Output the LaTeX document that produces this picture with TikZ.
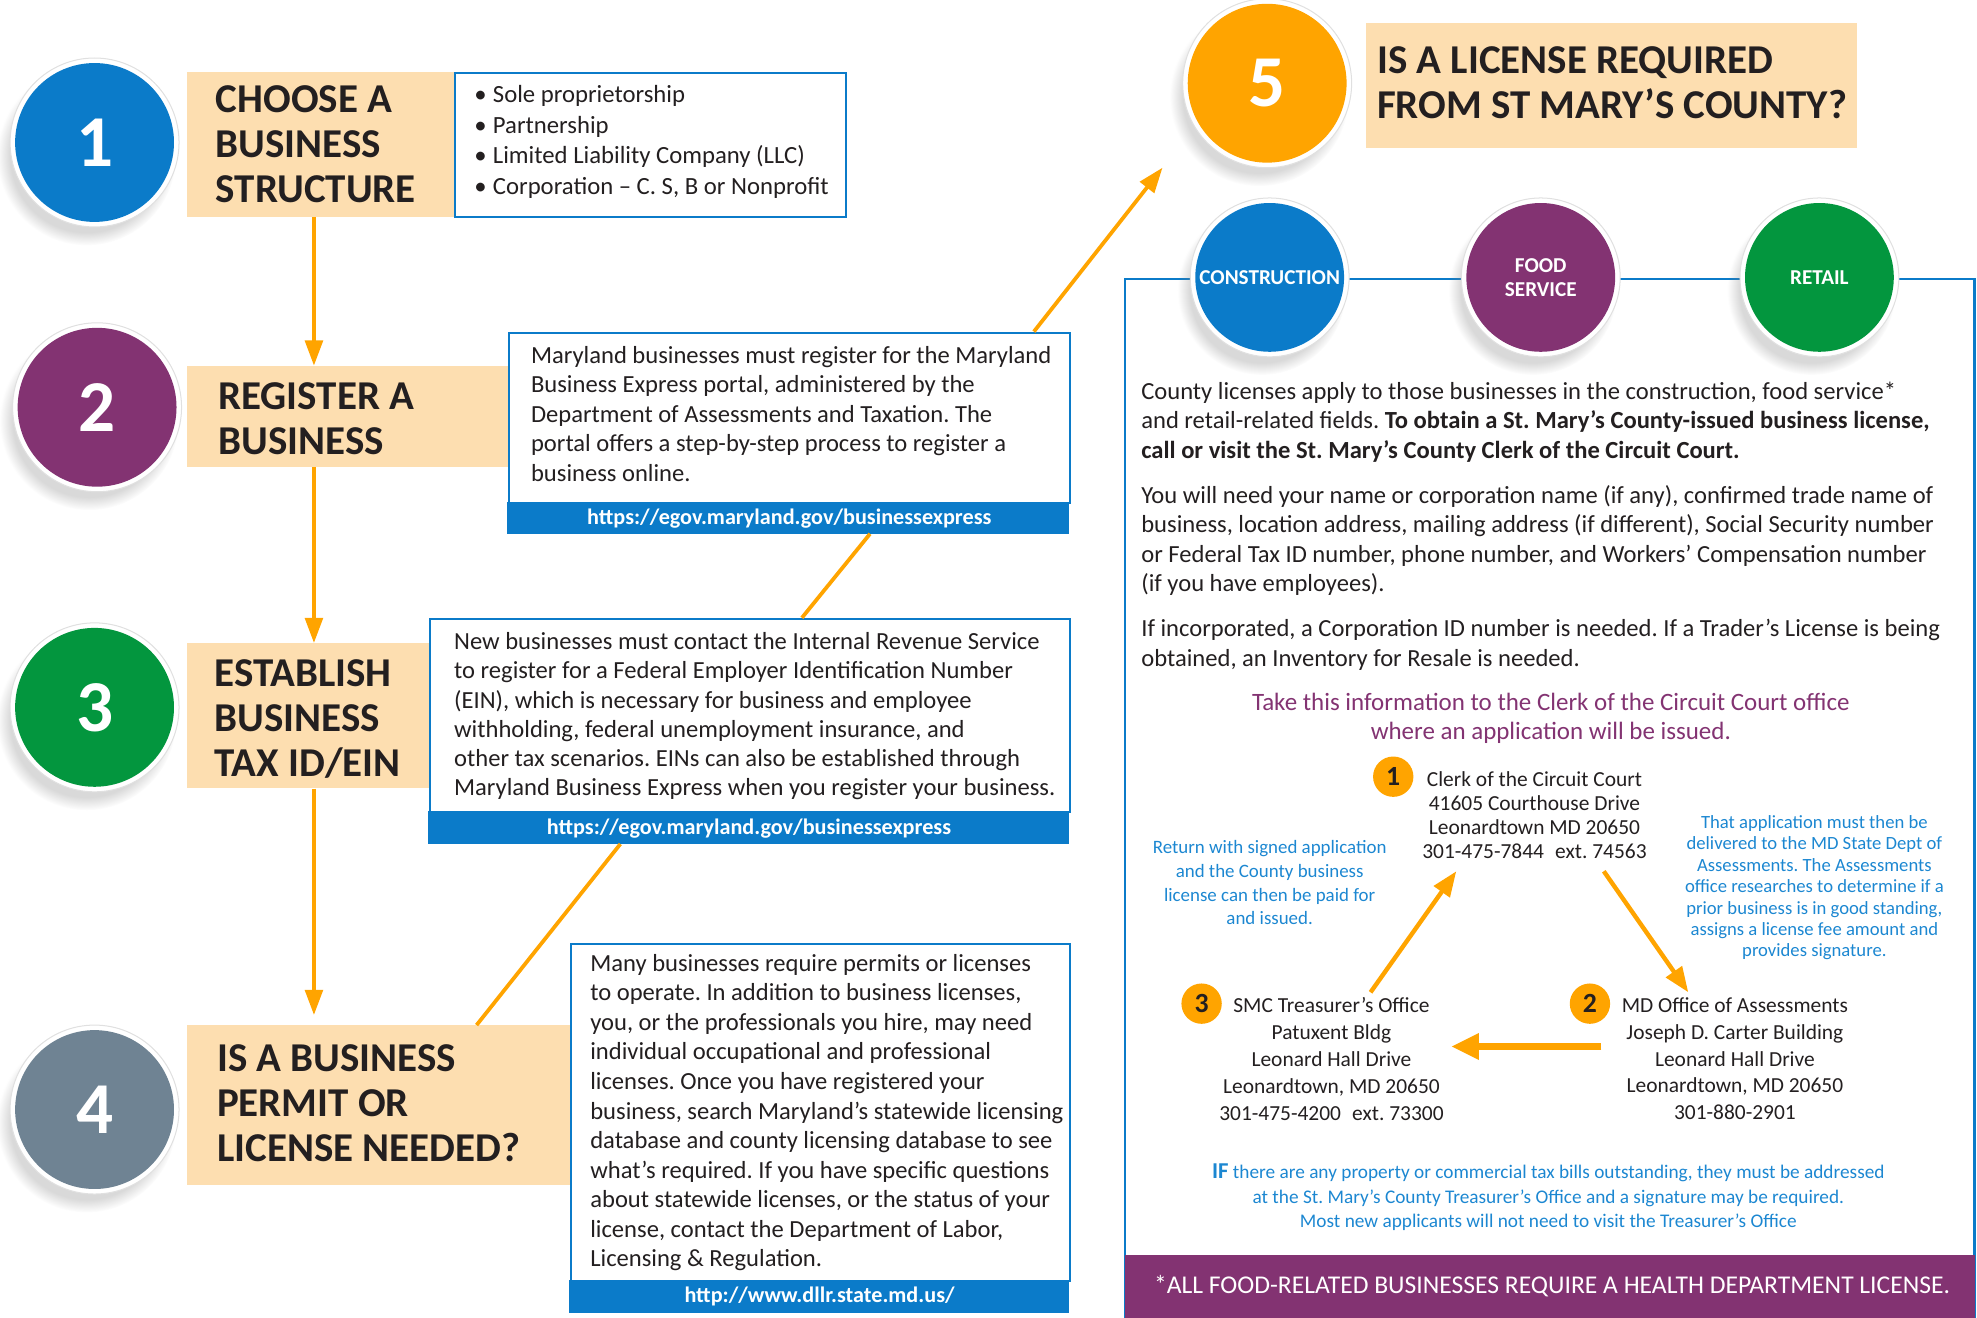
\documentclass[tikz,border=0pt]{standalone}
\usepackage{fontspec}
\setmainfont{Carlito}
\usetikzlibrary{arrows.meta,shadows}
\definecolor{cblue}{HTML}{0B7BC9}
\definecolor{cpurple}{HTML}{833372}
\definecolor{cgreen}{HTML}{03963E}
\definecolor{cgray}{HTML}{6F8393}
\definecolor{corange}{HTML}{FFA400}
\definecolor{cpeach}{HTML}{FDDEB0}
\definecolor{ctext}{HTML}{231F20}
\definecolor{cnote}{HTML}{1C87D1}
\frenchspacing
\begin{document}
\begin{tikzpicture}[x=1pt,y=-1pt,
  ringbg/.style={circle, inner sep=0, fill=white, draw=black!12, line width=0.8pt,
     circular drop shadow={shadow xshift=-6pt, shadow yshift=-10pt, opacity=0.3, shadow scale=1.06}},
  stepcirc/.style={circle, inner sep=0, minimum size=126pt, text=white,
     font=\bfseries\fontsize{58}{58}\selectfont},
  catcirc/.style={circle, inner sep=0, minimum size=118pt, text=white, align=center,
     font=\bfseries\fontsize{16.8}{19}\selectfont},
  peach/.style={fill=cpeach, draw=none},
  head/.style={anchor=north west, inner sep=0, align=left, text=ctext,
     font=\bfseries\fontsize{32.5}{35.7}\selectfont},
  infobox/.style={draw=cblue, line width=1.8pt, fill=white},
  urlbar/.style={fill=cblue, draw=none},
  urltext/.style={text=white, inner sep=0, font=\bfseries\fontsize{17.6}{20}\selectfont},
  body/.style={anchor=north west, inner sep=0, align=left, text=ctext,
     font=\fontsize{19.5}{23.4}\selectfont},
  flow/.style={draw=corange, line width=3pt, -{Triangle[length=20pt,width=14pt]}},
  link/.style={draw=corange, line width=3pt},
  addr/.style={anchor=north, inner sep=0, align=center, text=ctext,
     font=\fontsize{17}{21.3}\selectfont},
  note/.style={anchor=north, inner sep=0, align=center, text=cnote,
     font=\fontsize{14.8}{17}\selectfont},
  numdot/.style={circle, fill=corange, inner sep=0, minimum size=32pt, text=ctext,
     font=\bfseries\fontsize{22}{22}\selectfont},
  tri/.style={draw=corange, line width=3.5pt, -{Triangle[length=20pt,width=15pt]}}
]
\useasboundingbox (0,0) rectangle (1568,1044.6);

% ---------------- right panel frame ----------------
\draw[cblue, line width=1.8pt] (892,1060) -- (892,221) -- (1566,221) -- (1566,1060);
\node[fill=cpurple, minimum width=674pt, minimum height=52pt, inner sep=0, anchor=north west] (foodbar) at (892,995) {};
\node[text=white, inner sep=0, font=\fontsize{20.3}{22}\selectfont] (foodtxt) at (1231,1020) {*ALL FOOD-RELATED BUSINESSES REQUIRE A HEALTH DEPARTMENT LICENSE.};

% ---------------- step boxes ----------------
\node[peach, anchor=north west, minimum width=212pt, minimum height=115pt, inner sep=0] (h1) at (148,57) {};
\node[head] (h1t) at (171,68) {CHOOSE A\\BUSINESS\\STRUCTURE};
\node[infobox, anchor=north west, minimum width=310pt, minimum height=114pt, inner sep=0] (b1) at (360,57) {};
\node[body, font=\fontsize{19.6}{24.3}\selectfont] (b1t) at (376,67.5) {\textbullet\hspace{5pt}Sole proprietorship\\\textbullet\hspace{5pt}Partnership\\\textbullet\hspace{5pt}Limited Liability Company (LLC)\\\textbullet\hspace{5pt}Corporation – C. S, B or Nonprofit};

\node[peach, anchor=north west, minimum width=255pt, minimum height=80pt, inner sep=0] (h2) at (148,290) {};
\node[head] (h2t) at (173,303) {REGISTER A\\BUSINESS};
\node[infobox, anchor=north west, minimum width=445pt, minimum height=135pt, inner sep=0] (b2) at (403,263) {};
\node[urlbar, anchor=north west, minimum width=446pt, minimum height=25pt, inner sep=0] (u2) at (402,398) {};
\node[urltext] (u2t) at (626,411) {https://egov.maryland.gov/businessexpress};
\node[body] (b2t) at (421,274.5) {Maryland businesses must register for the Maryland\\Business Express portal, administered by the\\Department of Assessments and Taxation. The\\portal offers a step-by-step process to register a\\business online.};

\node[peach, anchor=north west, minimum width=192pt, minimum height=115pt, inner sep=0] (h3) at (148,510) {};
\node[head] (h3t) at (170,523) {ESTABLISH\\BUSINESS\\TAX ID/EIN};
\node[infobox, anchor=north west, minimum width=508pt, minimum height=153pt, inner sep=0] (b3) at (340,490) {};
\node[urlbar, anchor=north west, minimum width=509pt, minimum height=26pt, inner sep=0] (u3) at (339,643) {};
\node[urltext] (u3t) at (594,657) {https://egov.maryland.gov/businessexpress};
\node[body, font=\fontsize{19.5}{23.2}\selectfont] (b3t) at (360,501.5) {New businesses must contact the Internal Revenue Service\\to register for a Federal Employer Identification Number\\(EIN), which is necessary for business and employee\\withholding, federal unemployment insurance, and\\other tax scenarios. EINs can also be established through\\Maryland Business Express when you register your business.};

\node[peach, anchor=north west, minimum width=304pt, minimum height=127pt, inner sep=0] (h4) at (148,813) {};
\node[head] (h4t) at (172,828) {IS A BUSINESS\\PERMIT OR\\LICENSE NEEDED?};
\node[infobox, anchor=north west, minimum width=396pt, minimum height=267pt, inner sep=0] (b4) at (452,748) {};
\node[urlbar, anchor=north west, minimum width=397pt, minimum height=26pt, inner sep=0] (u4) at (451,1015) {};
\node[urltext] (u4t) at (650,1028) {http://www.dllr.state.md.us/};
\node[body, font=\fontsize{19.5}{23.45}\selectfont] (b4t) at (468,756.5) {Many businesses require permits or licenses\\to operate. In addition to business licenses,\\you, or the professionals you hire, may need\\individual occupational and professional\\licenses. Once you have registered your\\business, search Maryland’s statewide licensing\\database and county licensing database to see\\what’s required. If you have specific questions\\about statewide licenses, or the status of your\\license, contact the Department of Labor,\\Licensing \& Regulation.};

% step 5 title
\node[peach, anchor=north west, minimum width=390pt, minimum height=99pt, inner sep=0] (h5) at (1083,18) {};
\node[head] (h5t) at (1092,37) {IS A LICENSE REQUIRED\\FROM ST MARY’S COUNTY?};

% ---------------- connectors ----------------
\coordinate (ax) at (249,0);
\draw[flow] (h1.south -| ax) -- (h2.north -| ax);
\draw[flow] (h2.south -| ax) -- (h3.north -| ax);
\draw[flow, shorten >=8pt] (h3.south -| ax) -- (h4.north -| ax);
\coordinate (d4) at (378,0);
\coordinate (d3a) at (492,0);
\coordinate (d3b) at (636,0);
\coordinate (d2a) at (690,0);
\coordinate (d2b) at (820,0);
\coordinate (tip5) at (922,133);
\draw[link] (h4.north -| d4) -- (u3.south -| d3a);
\draw[link] (b3.north -| d3b) -- (u2.south -| d2a);
\draw[link, -{Triangle[length=20pt,width=14pt]}] (b2.north -| d2b) -- (tip5);

% ---------------- big circles ----------------
\node[ringbg, minimum size=134pt] (c1r) at (75,113) {};
\node[stepcirc, fill=cblue] (c1) at (75,113) {1};
\node[ringbg, minimum size=134pt] (c2r) at (77,323) {};
\node[stepcirc, fill=cpurple] (c2) at (77,323) {2};
\node[ringbg, minimum size=134pt] (c3r) at (75,561) {};
\node[stepcirc, fill=cgreen] (c3) at (75,561) {3};
\node[ringbg, minimum size=134pt] (c4r) at (75,880) {};
\node[stepcirc, fill=cgray] (c4) at (75,880) {4};
\node[ringbg, minimum size=134pt] (c5r) at (1005,66) {};
\node[stepcirc, fill=corange] (c5) at (1005,66) {5};

\node[ringbg, minimum size=126pt] (k1r) at (1007,220) {};
\node[catcirc, fill=cblue] (k1) at (1007,220) {CONSTRUCTION};
\node[ringbg, minimum size=126pt] (k2r) at (1222,220) {};
\node[catcirc, fill=cpurple] (k2) at (1222,220) {FOOD\\SERVICE};
\node[ringbg, minimum size=126pt] (k3r) at (1443,220) {};
\node[catcirc, fill=cgreen] (k3) at (1443,220) {RETAIL};

% ---------------- right panel text ----------------
\node[body, font=\fontsize{19.5}{23.4}\selectfont] (p1) at (905,302.5) {County licenses apply to those businesses in the construction, food service*\\and retail-related fields. \textbf{To obtain a St. Mary’s County-issued business license,}\\\textbf{call or visit the St. Mary’s County Clerk of the Circuit Court.}\\[12.5pt]You will need your name or corporation name (if any), confirmed trade name of\\business, location address, mailing address (if different), Social Security number\\or Federal Tax ID number, phone number, and Workers’ Compensation number\\(if you have employees).\\[12.2pt]If incorporated, a Corporation ID number is needed. If a Trader’s License is being\\obtained, an Inventory for Resale is needed.};
\node[anchor=north, inner sep=0, align=center, text=cpurple, font=\fontsize{19.8}{23}\selectfont] (p2) at (1230,549.5) {Take this information to the Clerk of the Circuit Court office\\where an application will be issued.};

% ---------------- triangle ----------------
\node[numdot] (n1) at (1105,616) {1};
\node[addr, font=\fontsize{17}{19}\selectfont] (clerk) at (1217,611.5) {Clerk of the Circuit Court\\41605 Courthouse Drive\\Leonardtown MD 20650\\301-475-7844\hspace{5pt} ext. 74563};
\node[numdot] (n3) at (953,796) {3};
\node[addr] (smc) at (1056,791) {SMC Treasurer’s Office\\Patuxent Bldg\\Leonard Hall Drive\\Leonardtown, MD 20650\\301-475-4200\hspace{5pt} ext. 73300};
\node[numdot] (n2) at (1261,796) {2};
\node[addr] (mdo) at (1376,791) {MD Office of Assessments\\Joseph D. Carter Building\\Leonard Hall Drive\\Leonardtown, MD 20650\\301-880-2901};

\node[note, font=\fontsize{15}{19}\selectfont] (ret) at (1007,666) {Return with signed application\\and the County business\\license can then be paid for\\and issued.};
\node[note] (app) at (1439,646.5) {That application must then be\\delivered to the MD State Dept of\\Assessments. The Assessments\\office researches to determine if a\\prior business is in good standing,\\assigns a license fee amount and\\provides signature.};

\coordinate (t1a) at (1272,691);
\coordinate (t1b) at (1339,787);
\coordinate (t2a) at (1270,830);
\coordinate (t2b) at (1151,830);
\coordinate (t3a) at (1087,787);
\coordinate (t3b) at (1155,691);
\draw[tri] (t1a) -- (t1b);
\draw[tri, line width=5pt, -{Triangle[length=22pt,width=20pt]}] (t2a) -- (t2b);
\draw[tri] (t3a) -- (t3b);

\node[note, font=\fontsize{15.3}{19.5}\selectfont] (iftxt) at (1228,923) {{\bfseries\fontsize{18}{19.5}\selectfont IF} there are any property or commercial tax bills outstanding, they must be addressed\\at the St. Mary’s County Treasurer’s Office and a signature may be required.\\Most new applicants will not need to visit the Treasurer’s Office};
\end{tikzpicture}
\end{document}
